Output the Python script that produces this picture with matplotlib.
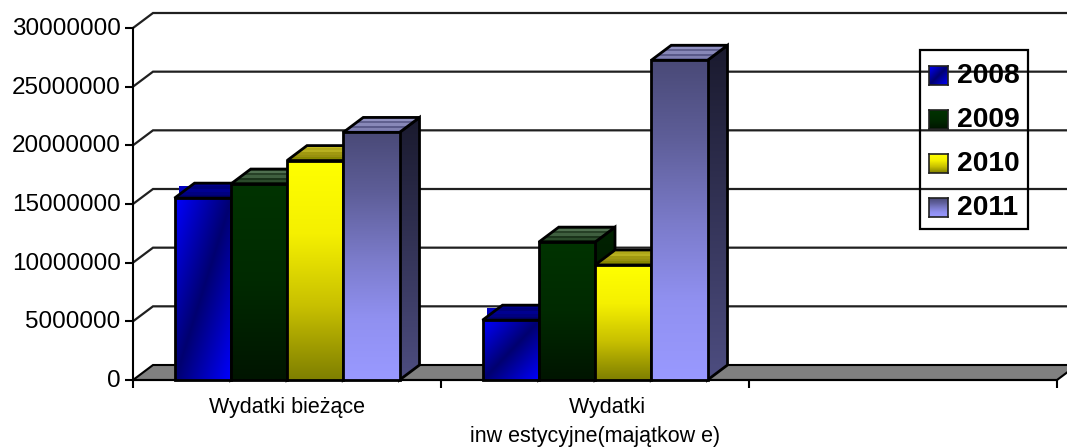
import numpy as np
import matplotlib
matplotlib.use('Agg')
import matplotlib.pyplot as plt
from matplotlib.colors import to_rgb, LinearSegmentedColormap
from matplotlib.patches import Polygon, Rectangle
from matplotlib.ticker import MultipleLocator, FormatStrFormatter
from matplotlib.transforms import ScaledTranslation

plt.rcParams['font.family'] = ['Liberation Sans', 'DejaVu Sans']

categories = ['Wydatki bieżące', '    Wydatki\ninw estycyjne(majątkow e)', '']
years = ['2008', '2009', '2010', '2011']
values_2008 = [15500000, 5100000, 0]
values_2009 = [16700000, 11750000, 0]
values_2010 = [18700000, 9800000, 0]
values_2011 = [21100000, 27250000, 0]
series = [values_2008, values_2009, values_2010, values_2011]

W, H = 1067, 447
LEFT, RIGHT, BOTTOM, TOP = 133, 1057, 380, 28
YMAX = 30000000
BAR_W = 56.25 / 308
DEPTH_X = 20 / 308
DEPTH_Y = 15 / (BOTTOM - TOP) * YMAX

# colours, read from top to bottom of each face
front_stops = [None,
               ['#003300', '#002a00', '#001500'],
               ['#ffff00', '#f5f000', '#c8c000', '#808000'],
               ['#4a4a78', '#5f5f9a', '#7a7ac8', '#9090f0', '#9999ff']]
side_stops = [['#000088', '#000066'],
              ['#002200', '#000f00'],
              ['#555500', '#2a2a00'],
              ['#1a1a2e', '#4d4d80']]
top_stops = [['#00008a', '#00007a', '#000090', '#000080', '#000070'],
             ['#2f4f2f', '#4f6f4f', '#264026', '#3f5f3f', '#1a331a', '#2a4a2a', '#0f2a0f'],
             ['#c0b820', '#b0a818', '#b8b020', '#a09810', '#989010', '#888800', '#808000'],
             ['#6a6aa0', '#9090c0', '#60608f', '#8888b8', '#5a5a8a', '#8080b0', '#7070a8']]


def vertical(stops, n=64):
    cmap = LinearSegmentedColormap.from_list('g', stops)
    return cmap(np.linspace(0, 1, n))[:, :3].reshape(n, 1, 3)


def diagonal(n=64):
    # blue corner, navy along the diagonal, blue corner
    u, v = np.meshgrid(np.linspace(0, 1, n), np.linspace(0, 1, n))
    t = np.abs(u + v - 1)[..., None]
    return np.array(to_rgb('#000070')) * (1 - t) + np.array(to_rgb('#0000ff')) * t


def face(ax, pts, img, z, interp='bilinear', lw=2.0):
    pts = np.array(pts)
    poly = Polygon(pts, closed=True, fc='none', ec='black', lw=lw, zorder=z + 0.1,
                   transform=ax.transData, clip_on=False, joinstyle='miter')
    ax.add_patch(poly)
    ext = [pts[:, 0].min(), pts[:, 0].max(), pts[:, 1].min(), pts[:, 1].max()]
    im = ax.imshow(img, extent=ext, aspect='auto', origin='upper', zorder=z, interpolation=interp)
    im.set_clip_path(poly)


fig = plt.figure(figsize=(W / 100, H / 100), dpi=100)
ax = fig.add_axes([LEFT / W, (H - BOTTOM) / H, (RIGHT - LEFT) / W, (BOTTOM - TOP) / H])
ax.patch.set_visible(False)
for name in ['top', 'right']:
    ax.spines[name].set_visible(False)
ax.spines['left'].set_linewidth(1.5)
ax.spines['bottom'].set_linewidth(1.5)

# floor
ax.add_patch(Polygon([(0, 0), (DEPTH_X, DEPTH_Y), (3 + DEPTH_X, DEPTH_Y), (3, 0)], closed=True,
                     fc='#808080', ec='black', lw=1.5, zorder=1, clip_on=False))

# back wall grid
for val in np.arange(5000000, YMAX + 1, 5000000):
    ax.plot([0, DEPTH_X, 3 + DEPTH_X], [val, val + DEPTH_Y, val + DEPTH_Y], color='#202020', lw=1.6,
            zorder=2, clip_on=False, solid_joinstyle='miter')

# bars, left to right so each one covers the side of the one before
z = 3
for c in range(2):
    start = c + 0.5 - 2 * BAR_W
    for s, vals in enumerate(series):
        x0 = start + s * BAR_W
        x1 = x0 + BAR_W
        v = vals[c]
        if s == 0:
            # the blue top spills past its edge in the reference
            ax.add_patch(Rectangle((x0 + 4 / 308, v), 16 / 308, DEPTH_Y * 0.8, fc='#0000c0', ec='none', zorder=z - 0.5))
        face(ax, [(x1, 0), (x1 + DEPTH_X, DEPTH_Y), (x1 + DEPTH_X, v + DEPTH_Y), (x1, v)],
             vertical(side_stops[s]), z)
        face(ax, [(x0, v), (x0 + DEPTH_X, v + DEPTH_Y), (x1 + DEPTH_X, v + DEPTH_Y), (x1, v)],
             np.array([to_rgb(col) for col in top_stops[s]]).reshape(-1, 1, 3), z + 1, interp='nearest')
        img = diagonal() if s == 0 else vertical(front_stops[s])
        face(ax, [(x0, 0), (x0, v), (x1, v), (x1, 0)], img, z + 2)
        z += 3

ax.set_xlim(0, 3)
ax.set_ylim(0, YMAX)
ax.yaxis.set_major_locator(MultipleLocator(5000000))
ax.yaxis.set_major_formatter(FormatStrFormatter('%d'))
ax.set_xticks([0, 1, 2, 3])
ax.set_xticklabels([])
ax.set_xticks([0.5, 1.5, 2.5], labels=categories, minor=True)
ax.tick_params(axis='y', length=6, width=1.5, labelsize=17.5, pad=3)
ax.tick_params(axis='x', which='major', length=6, width=1.5)
ax.tick_params(axis='x', which='minor', length=0, labelsize=15.5, pad=12)
for lab in ax.get_xticklabels(minor=True):
    lab.set_linespacing(1.55)
# y labels sit a little above their ticks
for lab in ax.get_yticklabels():
    lab.set_transform(lab.get_transform() + ScaledTranslation(0, 1.5 / 100, fig.dpi_scale_trans))

# legend, drawn by hand because the swatches carry gradients
ax.add_patch(Rectangle((920 / W, (H - 229) / H), 108 / W, 179 / H, transform=fig.transFigure,
                       fc='none', ec='black', lw=1.6, zorder=50, clip_on=False))
legend_tops = [66, 110, 154, 198]
for s, year in enumerate(years):
    y_top = legend_tops[s]
    sw = fig.add_axes([929 / W, (H - y_top - 19) / H, 19 / W, 19 / H], zorder=60)
    sw.imshow(diagonal() if s == 0 else vertical(front_stops[s]), aspect='auto', interpolation='bilinear')
    sw.set_xticks([])
    sw.set_yticks([])
    for spine in sw.spines.values():
        spine.set_linewidth(1.2)
        spine.set_color('#202020')
    fig.text(957 / W, (H - y_top - 10) / H, year, fontsize=20.3, fontweight='bold', va='center', ha='left', zorder=70)

fig.savefig('out.png', dpi=100)
